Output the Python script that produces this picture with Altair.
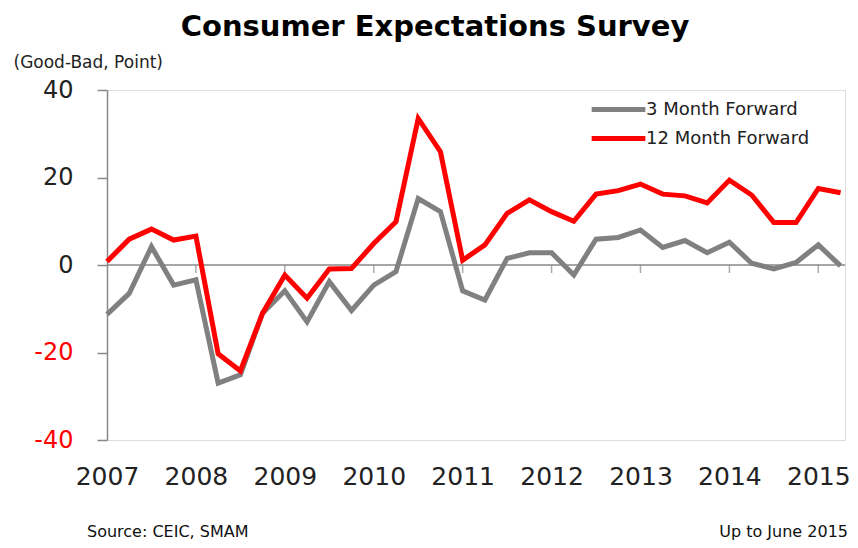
import altair as alt
import pandas as pd

# Quarterly data, 2007Q1 .. 2015Q2
years = list(range(2007, 2016))
quarters = [f"{y}Q{q}" for y in years for q in range(1, 5)][:34]

m3_forward = [-11.3, -6.5, 4.2, -4.6, -3.4, -27.0, -25.1, -11.0, -5.9, -13.0, -3.8,
              -10.4, -4.6, -1.5, 15.2, 12.2, -5.9, -8.0, 1.5, 2.8, 2.8, -2.3,
              5.9, 6.3, 8.0, 4.0, 5.6, 2.8, 5.2, 0.4, -0.9, 0.6, 4.6, -0.2]
m12_forward = [0.8, 5.9, 8.2, 5.7, 6.6, -20.3, -24.2, -11.0, -2.3, -7.6, -0.9,
               -0.8, 4.9, 9.9, 33.5, 25.9, 1.1, 4.6, 11.8, 14.9, 12.2, 10.0,
               16.2, 17.0, 18.5, 16.2, 15.8, 14.2, 19.4, 16.0, 9.7, 9.7, 17.5, 16.5]

series_names = ["3 Month Forward", "12 Month Forward"]
series_colors = ["#808080", "#FF0000"]
y_ticks = [-40, -20, 0, 20, 40]
year_tick_idx = [4, 8, 12, 16, 20, 24, 28, 32]
year_label_idx = [0, 4, 8, 12, 16, 20, 24, 28, 32]

rows = []
for i, q in enumerate(quarters):
    rows.append({"idx": i, "quarter": q, "series": series_names[0], "value": m3_forward[i]})
    rows.append({"idx": i, "quarter": q, "series": series_names[1], "value": m12_forward[i]})
df = pd.DataFrame(rows)

FONT = "DejaVu Sans"

x_scale = alt.Scale(domain=[0, 33.2], nice=False, zero=False)
y_scale = alt.Scale(domain=[-40, 40], nice=False)

x_axis = alt.Axis(values=year_label_idx, labelExpr="toString(2007 + datum.value / 4)",
                  domain=False, ticks=False, grid=False, title=None,
                  labelFont=FONT, labelFontSize=25, labelColor="#222",
                  labelPadding=24, labelAngle=0, labelFlush=False,
                  labelOverlap=False, labelBound=False)
y_axis = alt.Axis(values=y_ticks, grid=False, domainColor="#888", domainWidth=1.5,
                  tickColor="#888", tickWidth=1.5, tickSize=10,
                  labelExpr="toString(datum.value)",
                  labelFont=FONT, labelFontSize=24, labelPadding=24,
                  labelColor={"condition": {"test": "datum.value < 0", "value": "#FF0000"},
                              "value": "#222"},
                  title="(Good-Bad, Point)", titleAngle=0, titleAlign="left",
                  titleBaseline="alphabetic", titleX=-94, titleY=-23,
                  titleFont=FONT, titleFontSize=17, titleFontWeight="normal",
                  titleColor="#222")

zero_line = alt.Chart(pd.DataFrame({"y": [0]})).mark_rule(
    color="#888", strokeWidth=1.5).encode(y=alt.Y("y:Q", scale=y_scale, axis=y_axis))

ticks = alt.Chart(pd.DataFrame({"idx": year_tick_idx})).mark_tick(
    orient="vertical", size=8, thickness=1.5, color="#888", yOffset=4).encode(
    x=alt.X("idx:Q", scale=x_scale, axis=x_axis),
    y=alt.datum(0))

lines = alt.Chart(df).mark_line(strokeWidth=5).encode(
    x=alt.X("idx:Q", scale=x_scale, axis=x_axis),
    y=alt.Y("value:Q", scale=y_scale, axis=y_axis),
    color=alt.Color("series:N",
                    scale=alt.Scale(domain=series_names, range=series_colors),
                    sort=series_names,
                    legend=alt.Legend(orient="none", legendX=502, legendY=10,
                                      title=None, symbolType="M-4,0H4",
                                      symbolSize=180, symbolStrokeWidth=5,
                                      labelFont=FONT, labelFontSize=18,
                                      labelColor="#222", labelOffset=18,
                                      labelLimit=400,
                                      rowPadding=8, padding=0)),
    detail="series:N")

footer = pd.DataFrame({"label": ["Source: CEIC, SMAM"]})
source_text = alt.Chart(footer).mark_text(
    align="left", baseline="alphabetic", font=FONT, fontSize=16, color="#111").encode(
    text="label:N", x=alt.value(-20), y=alt.value(447))
upto = pd.DataFrame({"label": ["Up to June 2015"]})
upto_text = alt.Chart(upto).mark_text(
    align="right", baseline="alphabetic", font=FONT, fontSize=16, color="#111").encode(
    text="label:N", x=alt.value(741), y=alt.value(447))

chart = alt.layer(zero_line, ticks, lines, source_text, upto_text).properties(
    width=738, height=350,
    title=alt.TitleParams("Consumer Expectations Survey", font=FONT, fontSize=29,
                          fontWeight="bold", color="#000", anchor="middle",
                          baseline="alphabetic", offset=20, dx=-41, dy=32),
    autosize=alt.AutoSizeParams(type="none"),
    padding={"left": 99, "top": 82, "right": 5, "bottom": 100},
).configure_view(stroke=None).configure(background="white")

chart.save("out.html", embed_options={"renderer": "svg", "actions": False})
